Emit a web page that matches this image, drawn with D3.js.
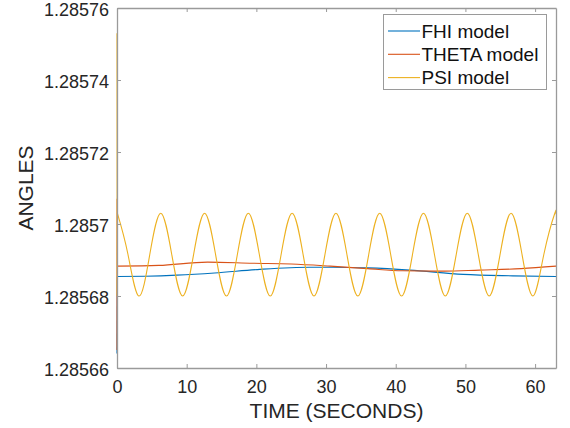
<!DOCTYPE html>
<html>
<head>
<meta charset="utf-8">
<script src="https://cdn.jsdelivr.net/npm/d3@7"></script>
<style>
  body { margin: 0; background: #fff; }
  svg { display: block; font-family: "Liberation Sans", Arial, sans-serif; }
</style>
</head>
<body>
<svg id="chart"></svg>
<script>
// series names and colours (MATLAB default order)
const names = ["FHI model", "THETA model", "PSI model"];
const colors = ["#0072BD", "#D95319", "#EDB120"];

// start-up transient at t = 0
const fhiStartT = [0, 0.05];
const fhiStartV = [1.285664, 1.2856854];
const thetaStartT = [0, 0.02, 0.05];
const thetaStartV = [1.285665, 1.285707, 1.2856883];
const psiStartT = [0, 0.02, 0.05];
const psiStartV = [1.285753, 1.28568, 1.285703];

// slow drift of FHI and THETA
const fhiT = [0.05, 4, 8.6, 14, 20.5, 27.7, 31, 36, 42, 49.7, 56.8, 63];
const fhiV = [1.2856854, 1.2856855, 1.2856858, 1.2856864, 1.2856874, 1.285688,
              1.285688, 1.2856878, 1.2856872, 1.285686, 1.2856856, 1.2856854];
const thetaT = [0.05, 6, 13, 19.5, 25, 30.6, 36, 41, 47, 52, 58, 63];
const thetaV = [1.2856883, 1.2856885, 1.2856894, 1.2856891, 1.2856889, 1.2856883,
                1.2856876, 1.285687, 1.2856869, 1.2856872, 1.2856876, 1.2856883];

// PSI oscillation, read at peaks, troughs and mid crossings
const psiT = [0.05, 1.57, 3.14, 4.71, 6.28, 7.85, 9.42, 11.0, 12.57, 14.14,
              15.71, 17.28, 18.85, 20.42, 21.99, 23.56, 25.13, 26.7, 28.27, 29.85,
              31.42, 32.99, 34.56, 36.13, 37.7, 39.27, 40.84, 42.41, 43.98, 45.55,
              47.12, 48.69, 50.27, 51.84, 53.41, 54.98, 56.55, 58.12, 59.69, 61.26,
              62.83, 63];
const psiV = [1.285703, 1.2856916, 1.28568, 1.2856916, 1.285703, 1.2856916, 1.28568, 1.2856916, 1.285703, 1.2856916,
              1.28568, 1.2856916, 1.285703, 1.2856916, 1.28568, 1.2856916, 1.285703, 1.2856916, 1.28568, 1.2856916,
              1.285703, 1.2856916, 1.28568, 1.2856916, 1.285703, 1.2856916, 1.28568, 1.2856916, 1.285703, 1.2856916,
              1.28568, 1.2856916, 1.285703, 1.2856916, 1.28568, 1.2856916, 1.285703, 1.2856916, 1.28568, 1.2856916,
              1.285703, 1.2857027];

// axis ticks
const xTicks = [0, 10, 20, 30, 40, 50, 60];
const yTicks = [1.28566, 1.28568, 1.2857, 1.28572, 1.28574, 1.28576];
const yTickLabels = ["1.28566", "1.28568", "1.2857", "1.28572", "1.28574", "1.28576"];

let W = 570, H = 428;
let margin = {left: 117, top: 8, right: 14, bottom: 60};
let svg = d3.select("#chart").attr("width", W).attr("height", H);

let x = d3.scaleLinear().domain([0, 63]).range([margin.left, W - margin.right]);
let y = d3.scaleLinear().domain([1.28566, 1.28576]).range([H - margin.bottom, margin.top]);

const axisColor = "#9a9a9a";
const textColor = "#262626";

// lines
const zip = (t, v) => t.map((d, i) => [d, v[i]]);
const linear = d3.line().x(d => x(d[0])).y(d => y(d[1]));
const smooth = d3.line().x(d => x(d[0])).y(d => y(d[1])).curve(d3.curveMonotoneX);
const wave = d3.line().x(d => x(d[0])).y(d => y(d[1])).curve(d3.curveNatural);

let plot = svg.append("g");
let series = [
  {start: zip(fhiStartT, fhiStartV), body: zip(fhiT, fhiV), gen: smooth},
  {start: zip(thetaStartT, thetaStartV), body: zip(thetaT, thetaV), gen: smooth},
  {start: zip(psiStartT, psiStartV), body: zip(psiT, psiV), gen: wave}
];
series.forEach((s, i) => {
  plot.append("path").attr("d", linear(s.start))
    .attr("fill", "none").attr("stroke", colors[i]).attr("stroke-width", 1.1);
  plot.append("path").attr("d", s.gen(s.body))
    .attr("fill", "none").attr("stroke", colors[i]).attr("stroke-width", 1.1);
});

// axes (inward ticks on all four sides, box)
let axBottom = svg.append("g")
  .attr("transform", `translate(0,${H - margin.bottom})`)
  .call(d3.axisBottom(x).tickValues(xTicks).tickSizeInner(-4).tickSizeOuter(0).tickPadding(12));
let axTop = svg.append("g")
  .attr("transform", `translate(0,${margin.top})`)
  .call(d3.axisTop(x).tickValues(xTicks).tickSizeInner(-4).tickSizeOuter(0).tickFormat(""));
let axLeft = svg.append("g")
  .attr("transform", `translate(${margin.left},0)`)
  .call(d3.axisLeft(y).tickValues(yTicks).tickSizeInner(-4).tickSizeOuter(0).tickPadding(8)
    .tickFormat((d, i) => yTickLabels[i]));
let axRight = svg.append("g")
  .attr("transform", `translate(${W - margin.right},0)`)
  .call(d3.axisRight(y).tickValues(yTicks).tickSizeInner(-4).tickSizeOuter(0).tickFormat(""));

[axBottom, axTop, axLeft, axRight].forEach(g => {
  g.select(".domain").attr("stroke", axisColor).attr("stroke-width", 1.3);
  g.selectAll(".tick line").attr("stroke", axisColor);
  g.selectAll(".tick text").attr("fill", textColor).style("font-size", "18px")
    .style("font-family", "'Liberation Sans', Arial, sans-serif");
});
axBottom.selectAll(".tick text").attr("dy", "0.71em");
// MATLAB sits the y labels a little below the tick
axLeft.selectAll(".tick text").attr("dy", "0.42em");

// axis titles
svg.append("text")
  .attr("x", (x.range()[0] + x.range()[1]) / 2).attr("y", 418)
  .attr("text-anchor", "middle").attr("fill", textColor)
  .style("font-size", "21px").text("TIME (SECONDS)");
svg.append("text")
  .attr("transform", `translate(33,${(y.range()[0] + y.range()[1]) / 2}) rotate(-90)`)
  .attr("text-anchor", "middle").attr("fill", textColor)
  .style("font-size", "21px").text("ANGLES");

// legend
let legend = svg.append("g");
legend.append("rect")
  .attr("x", 383.5).attr("y", 14.5).attr("width", 163).attr("height", 75)
  .attr("fill", "#fff").attr("stroke", "#9a9a9a").attr("stroke-width", 1);
names.forEach((n, i) => {
  let ly = 31 + i * 23.3;
  legend.append("line")
    .attr("x1", 388).attr("x2", 420).attr("y1", ly).attr("y2", ly)
    .attr("stroke", colors[i]).attr("stroke-width", 1.1);
  legend.append("text")
    .attr("x", 421.5).attr("y", ly).attr("dy", "0.35em")
    .attr("fill", "#111").style("font-size", "19px").text(n);
});
</script>
</body>
</html>
